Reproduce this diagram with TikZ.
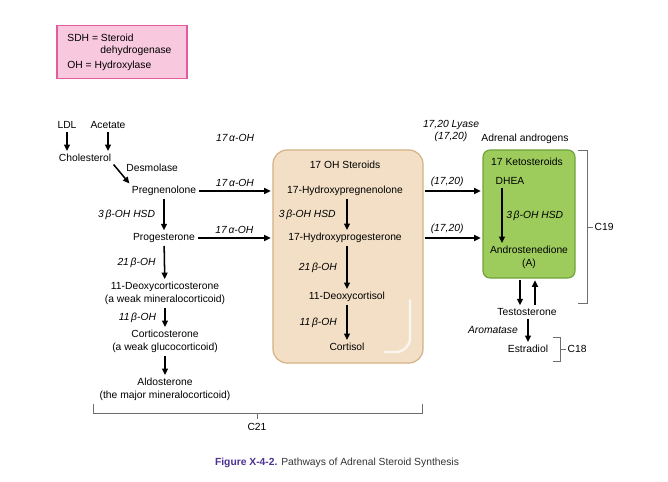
\documentclass[tikz,border=0pt]{standalone}
\usepackage{fontspec}
\setmainfont{Liberation Sans}
\usetikzlibrary{arrows.meta,positioning,calc}
\definecolor{pinkfill}{RGB}{248,200,222}
\definecolor{pinkline}{RGB}{228,92,160}
\definecolor{tanfill}{RGB}{242,223,198}
\definecolor{tanline}{RGB}{212,176,134}
\definecolor{greenfill}{RGB}{157,204,92}
\definecolor{greenline}{RGB}{112,164,58}
\definecolor{capcolor}{RGB}{78,48,146}
\definecolor{brkgray}{RGB}{110,110,110}

\begin{document}
\begin{tikzpicture}[x=0.03cm,y=-0.03cm,
  cmpd/.style={inner sep=1pt,align=center,text=black,font=\fontsize{8.8}{11}\selectfont},
  enz/.style={inner sep=1pt,text=black,font=\fontsize{8.8}{11}\selectfont\itshape},
  rxn/.style={line width=1.3pt,-{Triangle[length=5.5pt,width=5pt]},shorten >=1.5pt,shorten <=1.5pt},
  brk/.style={line width=0.7pt,brkgray}]
\useasboundingbox (0,0) rectangle (668,482);
\node[draw=pinkline,fill=pinkfill,line width=1pt,minimum width=3.9cm,minimum height=1.6cm] (legend) at (122,52) {};
\node[cmpd,anchor=west] (sdh) at (66,38) {SDH = Steroid};
\node[cmpd,anchor=west] (sdhb) at (99,51) {dehydrogenase};
\node[cmpd,anchor=west] (oh) at (66,66) {OH = Hydroxylase};
\node[draw=tanline,fill=tanfill,line width=1pt,rounded corners=12pt,minimum width=4.5cm,minimum height=6.39cm] (ohbox) at (348,256.5) {};
\draw[white,line width=2pt,opacity=0.75,line cap=round] (410,300) -- (410,338) arc[start angle=0,end angle=90,radius=14] -- (385,352);
\node[draw=greenline,fill=greenfill,line width=1pt,rounded corners=6pt,minimum width=2.76cm,minimum height=3.84cm] (green) at (529,214) {};
% left column
\node[cmpd] (ldl) at (67,125) {LDL};
\node[cmpd] (acet) at (108,125) {Acetate};
\node[cmpd] (chol) at (85,158) {Cholesterol};
\node[cmpd,anchor=west] (desm) at (125,168) {Desmolase};
\node[cmpd] (preg) at (164,191) {Pregnenolone};
\node[cmpd] (prog) at (164,238) {Progesterone};
\node[cmpd] (doc) at (165,293.5) {11-Deoxycorticosterone\\(a weak mineralocorticoid)};
\node[cmpd] (cort) at (165,341.5) {Corticosterone\\(a weak glucocorticoid)};
\node[cmpd] (aldo) at (165,389.5) {Aldosterone\\(the major mineralocorticoid)};
\node[enz] (ohtop) at (235,138) {17\,α-OH};
\draw[rxn] (ldl) -- (ldl |- chol.north);
\draw[rxn] (acet) -- (acet |- chol.north);
\draw[rxn] (chol.south east) -- (preg.north west);
\draw[rxn] (preg) -- (prog) node[enz,midway,left=6pt]{3\,β-OH HSD};
\draw[rxn] (prog) -- (doc) node[enz,midway,left=6pt]{21\,β-OH};
\draw[rxn] (doc) -- (cort) node[enz,midway,left=6pt]{11\,β-OH};
\draw[rxn] (cort) -- (aldo);
\draw[rxn] (preg) -- (preg -| ohbox.west) node[enz,midway,above=2pt]{17\,α-OH};
\draw[rxn] (prog) -- (prog -| ohbox.west) node[enz,midway,above=2pt]{17\,α-OH};
% 17 OH steroids
\node[cmpd] (ohtitle) at (345,165) {17 OH Steroids};
\node[cmpd] (hpreg) at (345,191) {17-Hydroxypregnenolone};
\node[cmpd] (hprog) at (345,238) {17-Hydroxyprogesterone};
\node[cmpd] (dcort) at (347,297) {11-Deoxycortisol};
\node[cmpd] (cortisol) at (347,347) {Cortisol};
\draw[rxn] (hpreg.south -| 347,0) -- (hprog.north -| 347,0) node[enz,midway,left=8pt]{3\,β-OH HSD};
\draw[rxn] (hprog.south -| 347,0) -- (dcort) node[enz,midway,left=7pt]{21\,β-OH};
\draw[rxn] (dcort) -- (cortisol) node[enz,midway,left=7pt]{11\,β-OH};
% androgens
\node[enz,align=center] (lyase) at (451,131) {17,20 Lyase\\(17,20)};
\node[cmpd] (adrenal) at (525,139) {Adrenal androgens};
\node[cmpd] (keto) at (527,162) {17 Ketosteroids};
\node[cmpd] (dhea) at (510,181) {DHEA};
\node[cmpd] (andro) at (529,257.5) {Androstenedione\\(A)};
\draw[rxn] (hpreg -| ohbox.east) -- (hpreg -| green.west) node[enz,pos=0.4,above=2pt]{(17,20)};
\draw[rxn] (hprog -| ohbox.east) -- (hprog -| green.west) node[enz,pos=0.4,above=2pt]{(17,20)};
\draw[rxn] (dhea.south -| 502,0) -- (andro.north -| 502,0) node[enz,midway,right=2pt]{3\,β-OH HSD};
\node[cmpd] (testo) at (527,312) {Testosterone};
\node[cmpd] (estra) at (528,349) {Estradiol};
\coordinate (dn) at ($(green.south)+(-9,0)$);
\coordinate (up) at ($(green.south)+(6,0)$);
\draw[rxn] (dn) -- (dn |- testo.north);
\draw[rxn] (up |- testo.north) -- (up);
\draw[rxn] (testo.south -| 528,0) -- (estra) node[enz,midway,left=7pt]{Aromatase};
% brackets
\draw[brk] (93,404) -- (93,413) -- (422,413) -- (422,404);
\draw[brk] (257,413) -- (257,419) node[cmpd,below=2pt] (c21) {C21};
\draw[brk] (578,150) -- (587,150) -- (587,303) -- (578,303);
\draw[brk] (587,227) -- (593,227) node[cmpd,right=0pt] (c19) {C19};
\draw[brk] (553,337) -- (560,337) -- (560,361) -- (553,361);
\draw[brk] (560,349) -- (566,349) node[cmpd,right=0pt] (c18) {C18};
\node[cmpd,text=black!80] (caption) at (337,463) {{\bfseries\color{capcolor}Figure X-4-2.} Pathways of Adrenal Steroid Synthesis};
\end{tikzpicture}
\end{document}
